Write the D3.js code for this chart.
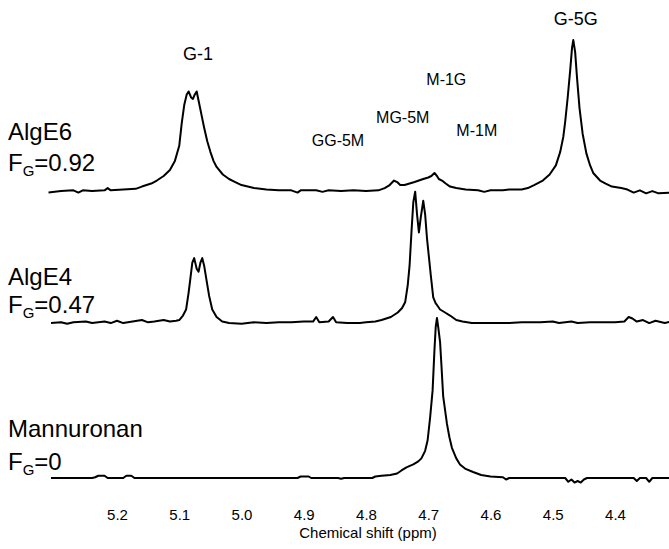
<!DOCTYPE html>
<html>
<head>
<meta charset="utf-8">
<script src="https://cdn.jsdelivr.net/npm/d3@7"></script>
<style>
  body { margin: 0; background: #fff; }
  svg { display: block; }
  text { font-family: "Liberation Sans", Arial, sans-serif; fill: #000; }
</style>
</head>
<body>
<svg id="chart" width="669" height="549"></svg>
<script>
// ppm, intensity (G-5G peak of AlgE6 = 100)
var algE6 = [[5.31,-1],[5.29,0],[5.27,0.5],[5.262,-1],[5.255,0.5],[5.24,0],[5.22,0.5],[5.215,2],[5.21,0.5],[5.19,1],[5.17,1.5],
  [5.16,3],[5.145,5],[5.136,7],[5.125,10],[5.115,14],[5.107,20],[5.1,30],[5.096,45],[5.092,57],[5.088,64],[5.085,66],
  [5.081,62],[5.078,61],[5.075,64],[5.072,66],[5.068,58],[5.064,50],[5.06,42],[5.055,33],[5.05,26],[5.045,20],[5.04,16],
  [5.03,11],[5.02,8],[5.01,6],[5.0,4],[4.99,3],[4.98,2],[4.96,1],[4.94,0.5],[4.92,0.5],[4.91,-1],[4.905,0.5],[4.88,0.5],[4.87,-0.5],
  [4.86,0.5],[4.84,0],[4.82,0.5],[4.8,0],[4.78,0.5],[4.77,2],[4.762,4],[4.755,7],[4.75,6],[4.745,4],[4.738,4],[4.73,5],
  [4.722,6],[4.715,7],[4.708,8],[4.7,9],[4.695,10],[4.69,12],[4.686,10],[4.683,8],[4.678,7],[4.672,5],[4.665,3],[4.655,2],
  [4.64,1],[4.62,0.5],[4.61,-0.5],[4.6,0.5],[4.58,0.5],[4.57,1],[4.55,1],[4.54,2],[4.53,4],[4.516,7],[4.505,11],[4.495,17],
  [4.488,26],[4.483,36],[4.48,46],[4.476,62],[4.472,80],[4.469,95],[4.467,100],[4.464,92],[4.461,75],[4.457,55],[4.452,38],
  [4.446,25],[4.44,17],[4.435,12],[4.424,7],[4.415,5],[4.405,3],[4.39,2],[4.38,1],[4.37,-1],[4.36,0.5],[4.35,-1.5],
  [4.34,0],[4.33,-1.5],[4.31,-1]];

var algE4 = [[5.306,0],[5.29,0.5],[5.28,-0.5],[5.27,0.5],[5.25,1],[5.24,0],[5.22,1],[5.21,0],[5.2,1.5],[5.19,0],[5.175,1],
  [5.16,2],[5.15,0.5],[5.14,1],[5.125,2],[5.115,1],[5.105,1.5],[5.1,2],[5.094,5],[5.089,9],[5.085,20],[5.082,30],[5.079,40],
  [5.076,43],[5.072,36],[5.069,34],[5.066,40],[5.063,43],[5.06,38],[5.056,28],[5.052,18],[5.047,9],[5.04,4],[5.031,1],
  [5.02,0],[5.0,-0.5],[4.98,0.5],[4.96,0],[4.94,0.5],[4.92,0.5],[4.9,1],[4.885,1],[4.88,4],[4.875,0.5],[4.86,1],[4.853,4],
  [4.848,0.5],[4.83,0],[4.81,0],[4.8,0.5],[4.785,1],[4.775,2],[4.76,4],[4.749,7],[4.742,10],[4.737,14],[4.733,25],[4.73,38],
  [4.727,60],[4.724,80],[4.721,87],[4.718,72],[4.715,60],[4.712,70],[4.708,81],[4.705,72],[4.702,56],[4.699,44],[4.696,32],
  [4.692,17],[4.688,13],[4.686,12],[4.681,9],[4.673,7],[4.665,5],[4.655,2],[4.645,1],[4.63,0],[4.6,0],[4.57,0],[4.55,0.5],
  [4.52,0.5],[4.5,1],[4.49,0],[4.47,1],[4.46,0],[4.44,0.5],[4.4,0.5],[4.385,1],[4.378,4],[4.372,3],[4.365,1],[4.355,2],
  [4.345,0],[4.335,1.5],[4.32,0],[4.31,1]];

var mannuronan = [[5.306,0],[5.28,0],[5.24,0],[5.235,0.5],[5.23,1.5],[5.22,1.5],[5.215,0],[5.19,0],[5.185,1.5],[5.177,1.5],
  [5.172,0],[5.1,0],[5.0,0],[4.91,0],[4.905,1],[4.892,1],[4.888,0],[4.845,0],[4.84,-0.5],[4.835,0],[4.79,0],[4.785,1],
  [4.775,1.5],[4.761,2],[4.75,3],[4.743,5],[4.735,7],[4.724,9],[4.716,11],[4.711,13],[4.705,18],[4.701,25],[4.697,40],
  [4.693,58],[4.69,85],[4.688,100],[4.686,106],[4.684,100],[4.681,90],[4.679,76],[4.676,54],[4.67,36],[4.666,27],[4.662,20],
  [4.655,13],[4.649,9],[4.64,6],[4.628,4],[4.615,2],[4.6,1],[4.58,0.5],[4.575,-1],[4.57,0],[4.5,0],[4.48,0],[4.475,-2.5],
  [4.47,-1],[4.465,-3],[4.46,-2],[4.455,-3],[4.45,-1],[4.445,0],[4.4,0],[4.37,0],[4.365,-2],[4.36,0],[4.35,0],[4.345,-2.5],
  [4.34,0],[4.31,0]];

var spectra = [algE6, algE4, mannuronan];
var sampleNames = ["AlgE6", "AlgE4", "Mannuronan"];
var sampleFG = ["0.92", "0.47", "0"];
var stackOffset = [190, 102.6, 0];   // vertical offset of each trace, intensity units

var peakLabels = ["G-1", "G-5G", "M-1G", "MG-5M", "M-1M", "GG-5M"];
var peakPpm    = [5.070, 4.463, 4.671, 4.741, 4.622, 4.845];
var peakLevel  = [277, 300, 260, 235, 226.5, 220];
var peakBig    = [true, true, false, false, false, false];

var tickValues = [5.2, 5.1, 5.0, 4.9, 4.8, 4.7, 4.6, 4.5, 4.4];

// layout
var nameY = [[140, 171], [285, 313], [437, 470]];

var svg = d3.select("#chart");

var x = d3.scaleLinear().domain([5.2, 4.4]).range([117, 615]);
var y = d3.scaleLinear().domain([0, 300]).range([478, 25]);

var line = d3.line()
  .x(function(d) { return x(d[0]); })
  .y(function(d) { return y(d[1] + d.off); });

spectra.forEach(function(s, i) {
  var pts = s.map(function(d) { var p = [d[0], d[1]]; p.off = stackOffset[i]; return p; });
  svg.append("path")
    .attr("d", line(pts))
    .attr("fill", "none")
    .attr("stroke", "#000")
    .attr("stroke-width", 2)
    .attr("stroke-linejoin", "round");
});

// sample names + F_G
sampleNames.forEach(function(n, i) {
  svg.append("text").attr("x", 8).attr("y", nameY[i][0])
    .style("font-size", "24px").text(n);
  var t = svg.append("text").attr("x", 8).attr("y", nameY[i][1]).style("font-size", "24px");
  t.append("tspan").text("F");
  t.append("tspan").attr("dy", 5).style("font-size", "15px").text("G");
  t.append("tspan").attr("dy", -5).text("=" + sampleFG[i]);
});

// peak assignments
peakLabels.forEach(function(l, i) {
  svg.append("text")
    .attr("x", x(peakPpm[i]))
    .attr("y", y(peakLevel[i]))
    .attr("text-anchor", "middle")
    .style("font-size", peakBig[i] ? "18px" : "16px")
    .text(l);
});

// x axis (no line, no ticks)
var axis = d3.axisBottom(x).tickValues(tickValues).tickSize(0).tickFormat(d3.format(".1f"));
var g = svg.append("g").attr("transform", "translate(0,505)").call(axis);
g.select(".domain").remove();
g.selectAll("text")
  .attr("dy", 0).attr("y", 15)
  .style("font-family", '"Liberation Sans", Arial, sans-serif')
  .style("font-size", "15px")
  .attr("fill", "#000");

svg.append("text")
  .attr("x", 368).attr("y", 538)
  .attr("text-anchor", "middle")
  .style("font-size", "15px")
  .text("Chemical shift (ppm)");
</script>
</body>
</html>
